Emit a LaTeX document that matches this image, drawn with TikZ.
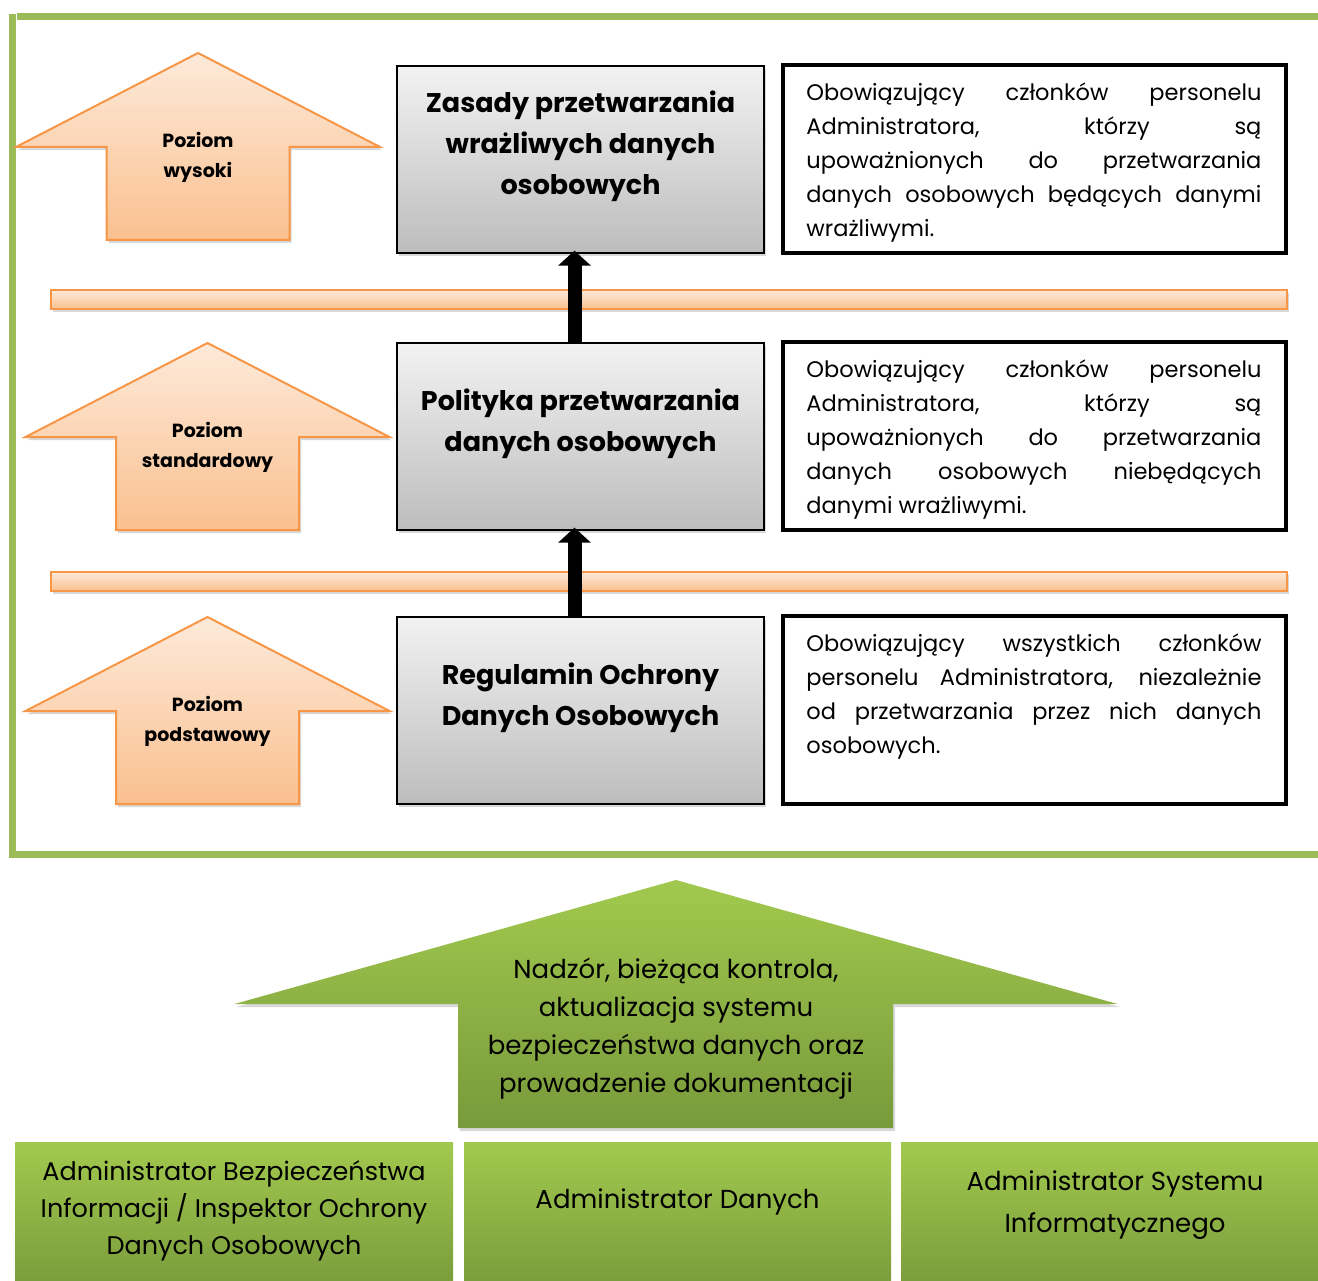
\documentclass[tikz,border=0pt]{standalone}
\usepackage{fontspec}
\setmainfont{Poppins}
\usetikzlibrary{arrows.meta,shadows,positioning}
\tikzset{>={Triangle[width=32pt,length=15pt]}}
\definecolor{ramka}{HTML}{9BBB59}
\definecolor{pomar}{HTML}{F79646}
\definecolor{pomarJasny}{HTML}{FDEADA}
\definecolor{pomarCiemny}{HTML}{FAC08F}
\definecolor{szaryJasny}{HTML}{F2F2F2}
\definecolor{szaryCiemny}{HTML}{BDBDBD}
\definecolor{zielJasny}{HTML}{A2C94E}
\definecolor{zielCiemny}{HTML}{789A3B}
\tikzset{
  cien/.style={drop shadow={shadow xshift=2pt,shadow yshift=-3pt,opacity=.3}},
  poziom/.style={draw=pomar, line width=2pt, top color=pomarJasny, bottom color=pomarCiemny, cien},
  poziomTekst/.style={align=center, font=\bfseries\fontsize{19}{30}\selectfont},
  pasek/.style={draw=pomar, line width=1.8pt, top color=pomarJasny, bottom color=pomarCiemny, minimum width=1236pt, minimum height=19pt, inner sep=0pt, cien},
  dokument/.style={draw=black, line width=1.3pt, top color=szaryJasny, bottom color=szaryCiemny, minimum width=367pt, minimum height=187pt, inner sep=0pt, cien},
  dokTekst/.style={align=center, font=\bfseries\fontsize{27}{41}\selectfont},
  opis/.style={draw=black, line width=3.5pt, fill=white, minimum width=503pt, minimum height=188pt, inner sep=0pt},
  opisTekst/.style={anchor=north west, text width=455pt, align=justify, inner sep=0pt, font=\fontsize{22.5}{34}\selectfont},
  zielony/.style={top color=zielJasny, bottom color=zielCiemny},
  rola/.style={zielony, minimum height=150pt, inner sep=0pt, anchor=north},
  rolaTekst/.style={align=center, font=\fontsize{25.5}{37}\selectfont},
  strzalka/.style={line width=14pt, ->},
}
\newcommand{\poziomStrzalka}[4]{% nazwa, x srodka, y grotu, tekst
  \path[poziom] (#2,#3) -- ++(182,94) -- ++(-90.5,0) -- ++(0,93) -- ++(-183,0) -- ++(0,-93) -- ++(-90.5,0) -- cycle;
  \node[poziomTekst] (#1) at (#2,#3+104) {#4};
}

\begin{document}
\begin{tikzpicture}[x=1pt,y=-1pt]
  \useasboundingbox[fill=white] (0,0) rectangle (1318,1281);
  % ramka
  \draw[ramka, line width=7pt] (12,14) -- (12,858);
  \draw[ramka, line width=7pt] (17,16.5) -- (1318,16.5);
  \draw[ramka, line width=7pt] (9,854) -- (1318,854);
  % poziomy
  \poziomStrzalka{wysoki}{198}{53}{Poziom\\wysoki}
  \poziomStrzalka{standardowy}{207.5}{343}{Poziom\\standardowy}
  \poziomStrzalka{podstawowy}{207.5}{617}{Poziom\\podstawowy}
  \node[pasek] (pasek1) at (669,299.5) {};
  \node[pasek] (pasek2) at (669,581.5) {};
  % dokumenty
  \node[dokument] (zasady) at (580.5,159.5) {};
  \node[dokTekst] (zasadyTekst) at ([yshift=13pt]zasady.center) {Zasady przetwarzania\\wrażliwych danych\\osobowych};
  \node[dokument] (polityka) at (580.5,436.5) {};
  \node[dokTekst] (politykaTekst) at ([yshift=13pt]polityka.center) {Polityka przetwarzania\\danych osobowych};
  \node[dokument] (regulamin) at (580.5,710.5) {};
  \node[dokTekst] (regulaminTekst) at ([yshift=13pt]regulamin.center) {Regulamin Ochrony\\Danych Osobowych};
  % opisy
  \node[opis] (opisZasady) at (1034.5,159) {};
  \node[opisTekst] (opisZasadyTekst) at ([xshift=25pt,yshift=-19pt]opisZasady.north west) {Obowiązujący członków personelu\linebreak Administratora, którzy są\linebreak upoważnionych do przetwarzania\linebreak danych osobowych będących danymi\linebreak wrażliwymi.};
  \node[opis] (opisPolityki) at (1034.5,436) {};
  \node[opisTekst] (opisPolitykiTekst) at ([xshift=25pt,yshift=-19pt]opisPolityki.north west) {Obowiązujący członków personelu\linebreak Administratora, którzy są\linebreak upoważnionych do przetwarzania\linebreak danych osobowych niebędących\linebreak danymi wrażliwymi.};
  \node[opis] (opisRegulaminu) at (1034.5,710) {};
  \node[opisTekst] (opisRegulaminuTekst) at ([xshift=25pt,yshift=-19pt]opisRegulaminu.north west) {Obowiązujący wszystkich członków\linebreak personelu Administratora, niezależnie\linebreak od przetwarzania przez nich danych\linebreak osobowych.};
  % strzalki
  \draw[strzalka] ([xshift=-6pt]polityka.north) -- ([xshift=-6pt,yshift=3pt]zasady.south);
  \draw[strzalka] ([xshift=-6pt]regulamin.north) -- ([xshift=-6pt,yshift=3pt]polityka.south);
  % nadzor
  \path[zielony, cien] (676,880) -- (1117.5,1004) -- (893,1004) -- (893,1128) -- (458,1128) -- (458,1004) -- (234.5,1004) -- cycle;
  \node[rolaTekst, font=\fontsize{26}{38}\selectfont] (nadzor) at (676,1029) {Nadzór, bieżąca kontrola,\\aktualizacja systemu\\bezpieczeństwa danych oraz\\prowadzenie dokumentacji};
  % role
  \node[rola, minimum width=438pt] (abi) at (234,1142) {};
  \node[rolaTekst] (abiTekst) at (234,1211) {Administrator Bezpieczeństwa\\Informacji / Inspektor Ochrony\\Danych Osobowych};
  \node[rola, minimum width=427pt] (ad) at (677.5,1142) {};
  \node[rolaTekst, font=\fontsize{26}{37}\selectfont] (adTekst) at (677.5,1202) {Administrator Danych};
  \node[rola, minimum width=428pt] (asi) at (1115,1142) {};
  \node[rolaTekst, font=\fontsize{26}{42}\selectfont] (asiTekst) at (1115,1205) {Administrator Systemu\\Informatycznego};
\end{tikzpicture}
\end{document}
